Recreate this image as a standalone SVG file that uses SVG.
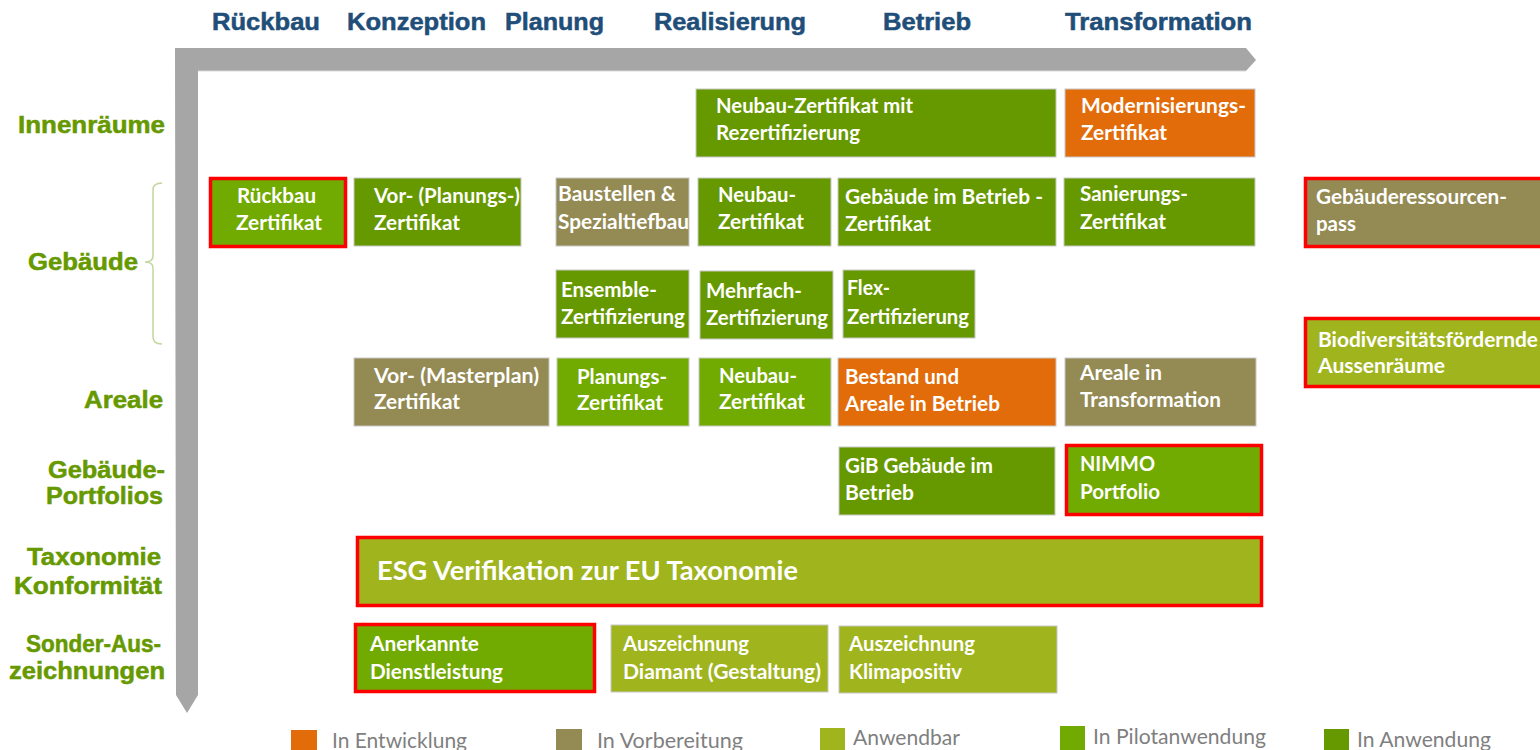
<svg xmlns="http://www.w3.org/2000/svg" width="1540" height="750" viewBox="0 0 1540 750">
  <style>
    .hdr { font-family: "Liberation Sans", Arial, sans-serif; font-weight: 700; font-size: 23px; fill: #1F4E79; stroke: #1F4E79; stroke-width: 0.5; }
    .row { font-family: "Liberation Sans", Arial, sans-serif; font-weight: 700; font-size: 23px; fill: #669900; stroke: #669900; stroke-width: 0.5; text-anchor: end; }
    .t { font-family: Lato, "Open Sans", sans-serif; font-weight: 700; font-size: 20px; fill: #FFFFFF; }
    .big { font-size: 27px; }
    .leg { font-family: Lato, "Open Sans", sans-serif; font-weight: 400; font-size: 21px; fill: #7F7F7F; }
    .box { stroke: #C8C8C8; stroke-width: 1; }
    .hl { fill: none; stroke: #FF0000; stroke-width: 3.5; }
    .c-dev { fill: #E36C0A; }
    .c-prep { fill: #948A54; }
    .c-app { fill: #A0B41E; }
    .c-pilot { fill: #71AA00; }
    .c-use { fill: #669900; }
  </style>

  <rect width="1540" height="750" fill="#FFFFFF"/>

  <!-- Phase headers -->
  <g id="phases">
    <text class="hdr" x="212" y="30" textLength="108" lengthAdjust="spacingAndGlyphs">Rückbau</text>
    <text class="hdr" x="347" y="30" textLength="139" lengthAdjust="spacingAndGlyphs">Konzeption</text>
    <text class="hdr" x="505" y="30" textLength="99" lengthAdjust="spacingAndGlyphs">Planung</text>
    <text class="hdr" x="654" y="30" textLength="152" lengthAdjust="spacingAndGlyphs">Realisierung</text>
    <text class="hdr" x="883" y="30" textLength="88" lengthAdjust="spacingAndGlyphs">Betrieb</text>
    <text class="hdr" x="1065" y="30" textLength="187" lengthAdjust="spacingAndGlyphs">Transformation</text>
  </g>

  <!-- Axes: horizontal life-cycle arrow and vertical scale arrow -->
  <g id="connectors">
    <path d="M175,48 H1246 L1256,60 L1246,71 H198 V695 L187,713 L176,695 Z" fill="#A6A6A6"/>
    <path d="M198,71 H1246" stroke="#D9D9D9" stroke-width="1" fill="none"/>
    <!-- bracket grouping the building rows -->
    <path d="M162,183 Q153,183 153,190 V256 Q153,262 145,262 Q153,262 153,268 V337 Q153,344 162,344" fill="none" stroke="#C3D69B" stroke-width="1.5"/>
  </g>

  <!-- Row labels -->
  <g id="rows">
    <text class="row" x="165" y="133" textLength="147" lengthAdjust="spacingAndGlyphs">Innenräume</text>
    <text class="row" x="138" y="270" textLength="110" lengthAdjust="spacingAndGlyphs">Gebäude</text>
    <text class="row" x="163" y="408" textLength="79" lengthAdjust="spacingAndGlyphs">Areale</text>
    <text class="row" x="165" y="478" textLength="117" lengthAdjust="spacingAndGlyphs">Gebäude-</text>
    <text class="row" x="163" y="504" textLength="117" lengthAdjust="spacingAndGlyphs">Portfolios</text>
    <text class="row" x="161" y="565" textLength="134" lengthAdjust="spacingAndGlyphs">Taxonomie</text>
    <text class="row" x="162" y="594" textLength="148" lengthAdjust="spacingAndGlyphs">Konformität</text>
    <text class="row" x="161" y="652" textLength="135" lengthAdjust="spacingAndGlyphs">Sonder-Aus-</text>
    <text class="row" x="165" y="679" textLength="156" lengthAdjust="spacingAndGlyphs">zeichnungen</text>
  </g>

  <!-- Certificates -->
  <g id="innen-neubau">
    <rect class="box c-use" x="696" y="89" width="360" height="68"/>
    <text class="t" x="716" y="113" textLength="197" lengthAdjust="spacingAndGlyphs">Neubau-Zertifikat mit</text>
    <text class="t" x="716" y="140" textLength="144" lengthAdjust="spacingAndGlyphs">Rezertifizierung</text>
  </g>
  <g id="innen-modernisierung">
    <rect class="box c-dev" x="1065" y="89" width="190" height="68"/>
    <text class="t" x="1081" y="113" textLength="165" lengthAdjust="spacingAndGlyphs">Modernisierungs-</text>
    <text class="t" x="1081" y="140" textLength="86" lengthAdjust="spacingAndGlyphs">Zertifikat</text>
  </g>

  <g id="rueckbau">
    <rect class="c-pilot" x="210.5" y="178.5" width="135" height="68"/>
    <rect class="hl" x="210.5" y="178.5" width="135" height="68"/>
    <text class="t" x="237" y="203" textLength="79" lengthAdjust="spacingAndGlyphs">Rückbau</text>
    <text class="t" x="236" y="230" textLength="86" lengthAdjust="spacingAndGlyphs">Zertifikat</text>
  </g>
  <g id="vor-planung">
    <rect class="box c-use" x="354" y="178" width="167" height="68"/>
    <text class="t" x="374" y="203" textLength="146" lengthAdjust="spacingAndGlyphs">Vor- (Planungs-)</text>
    <text class="t" x="374" y="230" textLength="86" lengthAdjust="spacingAndGlyphs">Zertifikat</text>
  </g>
  <g id="baustellen">
    <rect class="box c-prep" x="556" y="178" width="133" height="68"/>
    <text class="t" x="558" y="201" textLength="118" lengthAdjust="spacingAndGlyphs">Baustellen &amp;</text>
    <text class="t" x="558" y="229" textLength="131" lengthAdjust="spacingAndGlyphs">Spezialtiefbau</text>
  </g>
  <g id="neubau-gebaeude">
    <rect class="box c-use" x="698" y="178" width="133" height="68"/>
    <text class="t" x="718" y="202" textLength="78" lengthAdjust="spacingAndGlyphs">Neubau-</text>
    <text class="t" x="718" y="229" textLength="86" lengthAdjust="spacingAndGlyphs">Zertifikat</text>
  </g>
  <g id="betrieb-gebaeude">
    <rect class="box c-use" x="838" y="178" width="218" height="68"/>
    <text class="t" x="845" y="204" textLength="198" lengthAdjust="spacingAndGlyphs">Gebäude im Betrieb -</text>
    <text class="t" x="845" y="231" textLength="86" lengthAdjust="spacingAndGlyphs">Zertifikat</text>
  </g>
  <g id="sanierung">
    <rect class="box c-use" x="1064" y="178" width="191" height="68"/>
    <text class="t" x="1080" y="201" textLength="108" lengthAdjust="spacingAndGlyphs">Sanierungs-</text>
    <text class="t" x="1080" y="229" textLength="86" lengthAdjust="spacingAndGlyphs">Zertifikat</text>
  </g>
  <g id="ressourcenpass">
    <rect class="c-prep" x="1305.5" y="178.5" width="240" height="68"/>
    <rect class="hl" x="1305.5" y="178.5" width="240" height="68"/>
    <text class="t" x="1316" y="204" textLength="191" lengthAdjust="spacingAndGlyphs">Gebäuderessourcen-</text>
    <text class="t" x="1316" y="231" textLength="40" lengthAdjust="spacingAndGlyphs">pass</text>
  </g>

  <g id="ensemble">
    <rect class="box c-use" x="556" y="270" width="133" height="68"/>
    <text class="t" x="561" y="297" textLength="96" lengthAdjust="spacingAndGlyphs">Ensemble-</text>
    <text class="t" x="561" y="324" textLength="124" lengthAdjust="spacingAndGlyphs">Zertifizierung</text>
  </g>
  <g id="mehrfach">
    <rect class="box c-use" x="700" y="271" width="133" height="68"/>
    <text class="t" x="706" y="298" textLength="96" lengthAdjust="spacingAndGlyphs">Mehrfach-</text>
    <text class="t" x="706" y="325" textLength="122" lengthAdjust="spacingAndGlyphs">Zertifizierung</text>
  </g>
  <g id="flex">
    <rect class="box c-use" x="843" y="270" width="132" height="68"/>
    <text class="t" x="847" y="295" textLength="43" lengthAdjust="spacingAndGlyphs">Flex-</text>
    <text class="t" x="847" y="324" textLength="122" lengthAdjust="spacingAndGlyphs">Zertifizierung</text>
  </g>
  <g id="biodiversitaet">
    <rect class="c-app" x="1305.5" y="318.5" width="240" height="68"/>
    <rect class="hl" x="1305.5" y="318.5" width="240" height="68"/>
    <text class="t" x="1318" y="347" textLength="220" lengthAdjust="spacingAndGlyphs">Biodiversitätsfördernde</text>
    <text class="t" x="1318" y="373" textLength="127" lengthAdjust="spacingAndGlyphs">Aussenräume</text>
  </g>

  <g id="vor-masterplan">
    <rect class="box c-prep" x="354" y="358" width="195" height="68"/>
    <text class="t" x="374" y="383" textLength="165" lengthAdjust="spacingAndGlyphs">Vor- (Masterplan)</text>
    <text class="t" x="374" y="409" textLength="86" lengthAdjust="spacingAndGlyphs">Zertifikat</text>
  </g>
  <g id="planung-areal">
    <rect class="box c-pilot" x="557" y="358" width="132" height="68"/>
    <text class="t" x="577" y="384" textLength="90" lengthAdjust="spacingAndGlyphs">Planungs-</text>
    <text class="t" x="577" y="410" textLength="86" lengthAdjust="spacingAndGlyphs">Zertifikat</text>
  </g>
  <g id="neubau-areal">
    <rect class="box c-pilot" x="699" y="358" width="132" height="68"/>
    <text class="t" x="719" y="383" textLength="78" lengthAdjust="spacingAndGlyphs">Neubau-</text>
    <text class="t" x="719" y="409" textLength="86" lengthAdjust="spacingAndGlyphs">Zertifikat</text>
  </g>
  <g id="bestand-areal">
    <rect class="box c-dev" x="838" y="358" width="218" height="68"/>
    <text class="t" x="845" y="384" textLength="114" lengthAdjust="spacingAndGlyphs">Bestand und</text>
    <text class="t" x="845" y="411" textLength="155" lengthAdjust="spacingAndGlyphs">Areale in Betrieb</text>
  </g>
  <g id="transformation-areal">
    <rect class="box c-prep" x="1065" y="358" width="191" height="68"/>
    <text class="t" x="1080" y="380" textLength="82" lengthAdjust="spacingAndGlyphs">Areale in</text>
    <text class="t" x="1080" y="407" textLength="141" lengthAdjust="spacingAndGlyphs">Transformation</text>
  </g>

  <g id="gib-portfolio">
    <rect class="box c-use" x="839" y="447" width="216" height="68"/>
    <text class="t" x="845" y="473" textLength="148" lengthAdjust="spacingAndGlyphs">GiB Gebäude im</text>
    <text class="t" x="845" y="500" textLength="69" lengthAdjust="spacingAndGlyphs">Betrieb</text>
  </g>
  <g id="nimmo">
    <rect class="c-pilot" x="1066.5" y="445.5" width="195" height="69"/>
    <rect class="hl" x="1066.5" y="445.5" width="195" height="69"/>
    <text class="t" x="1080" y="471" textLength="75" lengthAdjust="spacingAndGlyphs">NIMMO</text>
    <text class="t" x="1080" y="499" textLength="80" lengthAdjust="spacingAndGlyphs">Portfolio</text>
  </g>

  <g id="esg">
    <rect class="c-app" x="357.5" y="537.5" width="904" height="68"/>
    <rect class="hl" x="357.5" y="537.5" width="904" height="68"/>
    <text class="t big" x="377" y="580" textLength="421" lengthAdjust="spacingAndGlyphs">ESG Verifikation zur EU Taxonomie</text>
  </g>

  <g id="anerkannt">
    <rect class="c-pilot" x="355.5" y="624.5" width="239" height="67"/>
    <rect class="hl" x="355.5" y="624.5" width="239" height="67"/>
    <text class="t" x="370" y="651" textLength="109" lengthAdjust="spacingAndGlyphs">Anerkannte</text>
    <text class="t" x="370" y="679" textLength="133" lengthAdjust="spacingAndGlyphs">Dienstleistung</text>
  </g>
  <g id="diamant">
    <rect class="box c-app" x="611" y="625" width="217" height="67"/>
    <text class="t" x="623" y="651" textLength="126" lengthAdjust="spacingAndGlyphs">Auszeichnung</text>
    <text class="t" x="623" y="679" textLength="198" lengthAdjust="spacingAndGlyphs">Diamant (Gestaltung)</text>
  </g>
  <g id="klimapositiv">
    <rect class="box c-app" x="839" y="626" width="218" height="67"/>
    <text class="t" x="849" y="651" textLength="126" lengthAdjust="spacingAndGlyphs">Auszeichnung</text>
    <text class="t" x="849" y="679" textLength="113" lengthAdjust="spacingAndGlyphs">Klimapositiv</text>
  </g>

  <!-- Status legend -->
  <g id="legend">
    <rect class="c-dev" x="291" y="730" width="26" height="20"/>
    <text class="leg" x="332" y="748" textLength="135" lengthAdjust="spacingAndGlyphs">In Entwicklung</text>
    <rect class="c-prep" x="556" y="729" width="26" height="21"/>
    <text class="leg" x="597" y="748" textLength="146" lengthAdjust="spacingAndGlyphs">In Vorbereitung</text>
    <rect class="c-app" x="820" y="728" width="25" height="22"/>
    <text class="leg" x="853" y="745" textLength="107" lengthAdjust="spacingAndGlyphs">Anwendbar</text>
    <rect class="c-pilot" x="1060" y="726" width="25" height="24"/>
    <text class="leg" x="1093" y="744" textLength="173" lengthAdjust="spacingAndGlyphs">In Pilotanwendung</text>
    <rect class="c-use" x="1324" y="729" width="25" height="21"/>
    <text class="leg" x="1357" y="747" textLength="134" lengthAdjust="spacingAndGlyphs">In Anwendung</text>
  </g>
</svg>
